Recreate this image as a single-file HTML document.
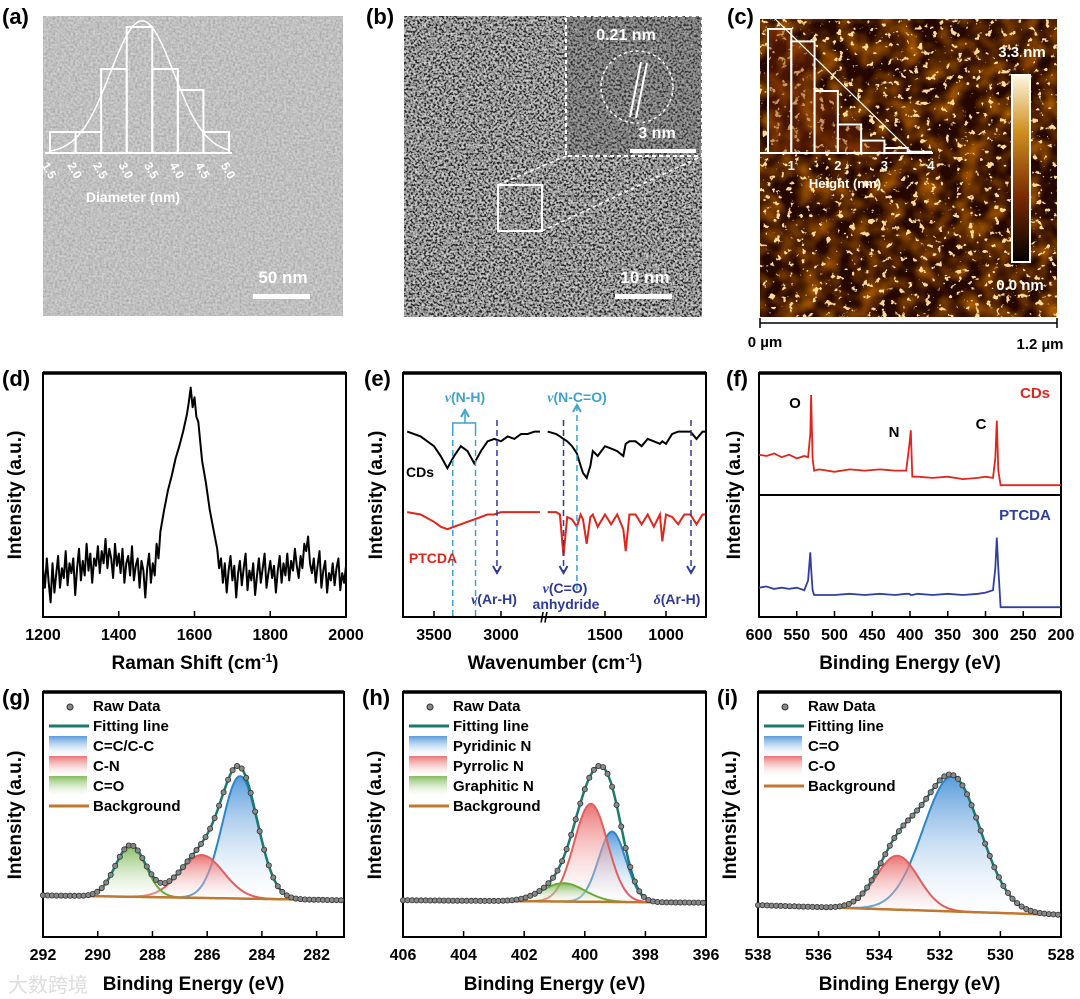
<!DOCTYPE html>
<html><head><meta charset="utf-8">
<style>
html,body{margin:0;padding:0;background:#fff;}
svg{display:block;font-family:"Liberation Sans","Noto Sans CJK SC",sans-serif;}
.pl{font-weight:bold;font-size:22px;}
.tk{font-weight:bold;font-size:16px;text-anchor:middle;}
.ax{font-weight:bold;font-size:19px;text-anchor:middle;}
.lg{font-family:"Liberation Sans Narrow","Liberation Sans",sans-serif;font-size:15px;font-weight:bold;}
.wt{fill:#fff;font-weight:bold;}
</style></head>
<body>
<svg id="fig" width="1080" height="999" viewBox="0 0 1080 999" xmlns="http://www.w3.org/2000/svg">
<defs>
<filter id="temA" x="0" y="0" width="1" height="1">
<feTurbulence type="fractalNoise" baseFrequency="0.45" numOctaves="2" seed="3"/>
<feColorMatrix type="matrix" values="0.9 0 0 0 0.2  0.9 0 0 0 0.2  0.9 0 0 0 0.2  0 0 0 0 1"/>
</filter>
<filter id="temB" x="0" y="0" width="1" height="1">
<feTurbulence type="fractalNoise" baseFrequency="0.45" numOctaves="2" seed="7"/>
<feColorMatrix type="matrix" values="2.6 0 0 0 -0.95  2.6 0 0 0 -0.95  2.6 0 0 0 -0.95  0 0 0 0 1"/>
</filter>
<filter id="afm" x="0" y="0" width="1" height="1">
<feTurbulence type="fractalNoise" baseFrequency="0.16" numOctaves="3" seed="11"/>
<feColorMatrix type="matrix" values="0 0 0 0 1  0 0 0 0 0.72  0 0 0 0 0.3  16 0 0 0 -10.3"/>
</filter>
<filter id="afm2" x="0" y="0" width="1" height="1">
<feTurbulence type="fractalNoise" baseFrequency="0.05" numOctaves="2" seed="5"/>
<feColorMatrix type="matrix" values="0 0 0 0 0.4  0 0 0 0 0.1  0 0 0 0 0  2 0 0 0 -0.7"/>
</filter>
<linearGradient id="cbar" x1="0" y1="0" x2="0" y2="1">
<stop offset="0" stop-color="#fff8e0"/><stop offset="0.3" stop-color="#d09020"/><stop offset="0.65" stop-color="#7a2a00"/><stop offset="1" stop-color="#000"/>
</linearGradient>
<linearGradient id="gBlue" x1="0" y1="0" x2="0" y2="1"><stop offset="0" stop-color="#3d8ad6" stop-opacity="0.85"/><stop offset="1" stop-color="#fff" stop-opacity="0.2"/></linearGradient>
<linearGradient id="gRed" x1="0" y1="0" x2="0" y2="1"><stop offset="0" stop-color="#e85a5a" stop-opacity="0.85"/><stop offset="1" stop-color="#fff" stop-opacity="0.2"/></linearGradient>
<linearGradient id="gGreen" x1="0" y1="0" x2="0" y2="1"><stop offset="0" stop-color="#6cb040" stop-opacity="0.85"/><stop offset="1" stop-color="#fff" stop-opacity="0.2"/></linearGradient>
</defs>

<g>
<rect x="43" y="16" width="300" height="300" fill="#a9a9a9"/>
<rect x="43" y="16" width="300" height="300" filter="url(#temA)" opacity="0.55"/>
<g id="histA"></g>
<text x="133" y="202" class="wt" font-size="14" text-anchor="middle">Diameter (nm)</text>
<text x="283" y="283" class="wt" font-size="17" text-anchor="middle">50 nm</text>
<rect x="253" y="294" width="57" height="5" fill="#fff"/>
<text x="2" y="24" class="pl">(a)</text>
</g>

<g>
<rect x="404" y="16" width="298" height="301" fill="#777"/>
<rect x="404" y="16" width="298" height="301" filter="url(#temB)" opacity="0.7"/>
<rect x="566" y="16" width="136" height="140" fill="#555" opacity="0.35"/>
<rect x="566" y="16" width="136" height="140" fill="none" stroke="#fff" stroke-width="2" stroke-dasharray="4,3"/>
<rect x="498" y="185" width="44" height="46" fill="none" stroke="#fff" stroke-width="2"/>
<line x1="498" y1="185" x2="566" y2="156" stroke="#fff" stroke-width="1.5" stroke-dasharray="4,3"/>
<line x1="542" y1="231" x2="702" y2="156" stroke="#fff" stroke-width="1.5" stroke-dasharray="4,3"/>
<circle cx="637" cy="87" r="36" fill="none" stroke="#fff" stroke-width="1.5" stroke-dasharray="3,3"/>
<line x1="630" y1="117" x2="641" y2="62" stroke="#fff" stroke-width="2"/>
<line x1="636" y1="118" x2="647" y2="63" stroke="#fff" stroke-width="2"/>
<text x="626" y="40" class="wt" font-size="16" text-anchor="middle">0.21 nm</text>
<text x="657" y="138" class="wt" font-size="16" text-anchor="middle">3 nm</text>
<rect x="630" y="149" width="66" height="4" fill="#fff"/>
<text x="645" y="283" class="wt" font-size="17" text-anchor="middle">10 nm</text>
<rect x="615" y="294" width="57" height="5" fill="#fff"/>
<text x="366" y="24" class="pl">(b)</text>
</g>

<g>
<rect x="760" y="19" width="297" height="298" fill="#250700"/>
<rect x="760" y="19" width="297" height="298" filter="url(#afm2)"/>
<rect x="760" y="19" width="297" height="298" filter="url(#afm)"/>
<g id="histC"></g>
<text x="845" y="188" class="wt" font-size="13" text-anchor="middle">Height (nm)</text>
<rect x="1012" y="75" width="18" height="187" fill="url(#cbar)" stroke="#fff" stroke-width="2"/>
<text x="1022" y="57" class="wt" font-size="15" text-anchor="middle">3.3 nm</text>
<text x="1020" y="290" class="wt" font-size="15" text-anchor="middle">0.0 nm</text>
<line x1="760" y1="323" x2="1057" y2="323" stroke="#000" stroke-width="1.5"/>
<line x1="760" y1="318" x2="760" y2="328" stroke="#000" stroke-width="1.5"/>
<line x1="1057" y1="318" x2="1057" y2="328" stroke="#000" stroke-width="1.5"/>
<text x="765" y="347" font-weight="bold" font-size="15" text-anchor="middle">0 µm</text>
<text x="1040" y="349" font-weight="bold" font-size="15" text-anchor="middle">1.2 µm</text>
<text x="727" y="24" class="pl">(c)</text>
</g>

<g id="charts"></g>
<text x="8" y="992" font-size="20" fill="#ddd">大数跨境</text>
</svg>

<script>
const histABins = [1.5,2.0,2.5,3.0,3.5,4.0,4.5];
const histACounts = [1,1,4,6,4,3,1];
const histALabels = ["1.5","2.0","2.5","3.0","3.5","4.0","4.5","5.0"];
const histCBins = [0.5,1.0,1.5,2.0,2.5,3.0,3.5];
const histCCounts = [10,9,5,2.3,1,0.4,0.1];
const histCLabels = ["1","2","3","4"];

const ramanX = [1200,1205,1210,1215,1220,1225,1230,1235,1240,1245,1250,1255,1260,1265,1270,1275,1280,1285,1290,1295,1300,1305,1310,1315,1320,1325,1330,1335,1340,1345,1350,1355,1360,1365,1370,1375,1380,1385,1390,1395,1400,1405,1410,1415,1420,1425,1430,1435,1440,1445,1450,1455,1460,1465,1470,1475,1480,1485,1490,1495,1500,1505,1510,1520,1530,1540,1550,1560,1570,1580,1585,1590,1595,1600,1605,1610,1615,1620,1630,1640,1650,1660,1665,1670,1675,1680,1685,1690,1695,1700,1705,1710,1715,1720,1725,1730,1735,1740,1745,1750,1755,1760,1765,1770,1775,1780,1785,1790,1795,1800,1805,1810,1815,1820,1825,1830,1835,1840,1845,1850,1855,1860,1865,1870,1875,1880,1885,1890,1895,1900,1905,1910,1915,1920,1925,1930,1935,1940,1945,1950,1955,1960,1965,1970,1975,1980,1985,1990,1995,2000];
const ramanY = [20,12,24,14,6,22,10,18,25,12,20,16,27,13,22,18,24,9,20,28,15,23,17,30,19,26,14,24,21,29,18,27,22,32,20,28,24,16,30,21,26,18,28,14,22,25,17,29,15,21,24,12,23,19,8,20,26,14,22,17,30,24,35,44,52,58,65,70,76,83,88,94,86,90,82,80,72,64,55,44,36,28,20,24,14,22,10,19,25,15,21,8,18,23,13,20,26,11,19,15,22,9,17,24,14,20,26,12,18,23,16,21,10,19,25,14,22,17,26,15,23,19,28,21,16,25,20,30,27,33,22,18,24,14,21,27,12,19,23,10,18,15,22,13,20,24,11,18,14,21,16];
const ramanTicks = [1200,1400,1600,1800,2000];

const ftirLeftWn = [3700,3600,3500,3450,3400,3350,3300,3250,3200,3150,3100,3050,3000,2950,2900,2850,2800,2750,2710];
const cdsLeft = [76,74,70,66,61,66,70,68,63,68,72,73,72,74,73,75,75,76,76];
const ptcdaLeft = [43,42,39,37,36,37,38,39,40,41,42,42,43,43,43,43,43,43,43];
const ftirRightWn = [1970,1900,1870,1840,1810,1770,1730,1700,1680,1650,1620,1600,1560,1500,1450,1400,1350,1330,1300,1250,1200,1150,1100,1050,1030,1000,950,900,850,800,750,700,680];
const cdsRight = [76,75,74,73,72,70,67,62,59,57,62,68,66,70,69,68,66,71,72,72,70,73,72,71,72,71,75,76,76,76,73,76,76];
const ptcdaRight = [43,43,42,25,41,40,37,42,40,30,41,42,37,42,38,42,36,27,42,42,38,42,37,42,31,42,41,38,42,42,38,42,42];
const ftirTicksLeft = [3500,3000];
const ftirTicksRight = [1500,1000];

const surveyBE = [600,590,580,570,560,550,540,535,532,531,529,527,520,500,480,460,440,420,405,401,399,397,390,370,350,330,310,300,290,287,285,283,280,260,240,220,200];
const surveyCDs = [33,32,34,31,33,30,32,31,50,82,30,20,21,19,21,20,21,20,20,40,53,15,15,14,15,13,14,15,14,30,61,20,8,8,8,8,8];
const surveyPTCDA = [24,25,23,24,23,24,22,30,53,40,22,18,18,18,19,18,19,18,19,19,18,18,19,18,19,18,19,20,22,40,65,40,8,8,8,8,8];
const surveyTicks = [600,550,500,450,400,350,300,250,200];

const c1sCenters = [284.8,286.2,288.8];
const c1sAmps = [50,17.5,21];
const c1sWidths = [0.65,0.8,0.55];
const c1sNames = ["C=C/C-C","C-N","C=O"];
const c1sBg = [17,15];
const c1sTicks = [292,290,288,286,284,282];

const n1sCenters = [399.1,399.8,400.7];
const n1sAmps = [28.7,40,7.5];
const n1sWidths = [0.45,0.55,0.7];
const n1sNames = ["Pyridinic N","Pyrrolic N","Graphitic N"];
const n1sBg = [15,14];
const n1sTicks = [406,404,402,400,398,396];

const o1sCenters = [531.6,533.4];
const o1sAmps = [55,22];
const o1sWidths = [0.95,0.7];
const o1sNames = ["C=O","C-O"];
const o1sBg = [13,9];
const o1sTicks = [538,536,534,532,530,528];

const NS = "http://www.w3.org/2000/svg";
function el(parent, tag, attrs, text){
  const e = document.createElementNS(NS, tag);
  for (const k in attrs) e.setAttribute(k, attrs[k]);
  if (text !== undefined) e.textContent = text;
  parent.appendChild(e);
  return e;
}
function lin(d0,d1,r0,r1){ return v => r0 + (v-d0)*(r1-r0)/(d1-d0); }
function pts(xs, ys, sx, sy){ return xs.map((x,i)=>sx(x).toFixed(1)+","+sy(ys[i]).toFixed(1)).join(" "); }
const charts = document.getElementById("charts");

function frame(g, x0, y0, x1, y1){
  const r = el(g,"rect",{x:x0,y:y0,width:x1-x0,height:y1-y0,fill:"none",stroke:"#000","stroke-width":2});
  
  
  const t = el(g,"line",{x1:x0,y1:y0,x2:x1,y2:y0,stroke:"#000","stroke-width":3.5});
  
  
}
function xTicks(g, ticks, sx, yb, labels){
  ticks.forEach((v,i)=>{
    const l = el(g,"line",{x1:sx(v),y1:yb,x2:sx(v),y2:yb-6,stroke:"#000","stroke-width":1.5});
    
    
    const t = el(g,"text",{x:sx(v),y:yb+23,class:"tk"}, labels? labels[i] : String(v));
    
    
  });
}
function yTitle(g, x, yc){
  const t = el(g,"text",{x:x,y:yc,class:"ax",transform:`rotate(-90 ${x} ${yc})`},"Intensity (a.u.)");
  
  
}
function xTitle(g, x, y, html){
  const t = el(g,"text",{x:x,y:y,class:"ax"});
  t.innerHTML = html;
  
  
}
function plabel(g, x, y, s){
  const t = el(g,"text",{x:x,y:y,class:"pl"}, s);
  
  
}

(function(){
  const g = document.getElementById("histA");
  const sx = lin(1.5,5.0,50,229), sy = lin(0,6,153,27);
  histABins.forEach((b,i)=>{
    const r = el(g,"rect",{x:sx(b),y:sy(histACounts[i]),width:sx(b+0.5)-sx(b),height:153-sy(histACounts[i]),fill:"none",stroke:"#fff","stroke-width":2});
    
    
  });
  const ax = el(g,"line",{x1:45,y1:153,x2:232,y2:153,stroke:"#fff","stroke-width":2});
  
  
  let d="";
  for(let v=1.5; v<=5.0; v+=0.05){ const c = 6.3*Math.exp(-Math.pow(v-3.3,2)/(2*0.62*0.62)); d += (d?"L":"M")+sx(v).toFixed(1)+","+sy(c).toFixed(1); }
  const p = el(g,"path",{d:d,fill:"none",stroke:"#fff","stroke-width":1.5});
  
  
  histALabels.forEach(s=>{
    const x = sx(parseFloat(s));
    const t = el(g,"text",{x:x,y:175,class:"wt","font-size":12,"text-anchor":"middle",transform:`rotate(60 ${x} 170)`}, s);
    
    
  });
})();

(function(){
  const g = document.getElementById("histC");
  const sx = lin(0.5,4.0,768,931), sy = lin(0,10,153,29);
  histCBins.forEach((b,i)=>{
    const r = el(g,"rect",{x:sx(b),y:sy(histCCounts[i]),width:sx(b+0.5)-sx(b),height:153-sy(histCCounts[i]),fill:"rgba(120,40,0,0.4)",stroke:"#fff","stroke-width":2});
    
    
  });
  const ax = el(g,"line",{x1:760,y1:153,x2:933,y2:153,stroke:"#fff","stroke-width":2});
  
  
  const l = el(g,"line",{x1:sx(0.6),y1:sy(11),x2:sx(3.6),y2:sy(0),stroke:"#fff","stroke-width":1.2});
  
  
  histCLabels.forEach(s=>{
    const t = el(g,"text",{x:sx(+s),y:170,class:"wt","font-size":13,"text-anchor":"middle"}, s);
    
    
  });
})();

(function(){
  const g = el(charts,"g",{});
  
  
  const sx = lin(1200,2000,43,346), sy = lin(0,100,617,373);
  frame(g,43,373,346,617);
  const p = el(g,"polyline",{points:pts(ramanX,ramanY,sx,sy),fill:"none",stroke:"#000","stroke-width":2,"stroke-linejoin":"round"});
  
  
  xTicks(g, ramanTicks, sx, 617);
  yTitle(g, 21, 495);
  xTitle(g, 195, 669, 'Raman Shift (cm<tspan dy="-7" font-size="12">-1</tspan><tspan dy="7">)</tspan>');
  plabel(g, 2, 386, "(d)");
})();

(function(){
  const g = el(charts,"g",{});
  
  
  const sxL = lin(3500,3000,434,501), sxR = lin(1500,1000,605,666), sy = lin(0,100,617,373);
  frame(g,403,373,706,617);
  [[ftirLeftWn,cdsLeft,sxL,"#000","cds-left"],[ftirRightWn,cdsRight,sxR,"#000","cds-right"],[ftirLeftWn,ptcdaLeft,sxL,"#e0261c","ptcda-left"],[ftirRightWn,ptcdaRight,sxR,"#e0261c","ptcda-right"]].forEach(s=>{
    const p = el(g,"polyline",{points:pts(s[0],s[1],s[2],sy),fill:"none",stroke:s[3],"stroke-width":2});
    
    
  });
  xTicks(g, ftirTicksLeft, sxL, 617);
  xTicks(g, ftirTicksRight, sxR, 617);
  const br = el(g,"text",{x:544,y:622,"font-size":14,"font-weight":"bold","text-anchor":"middle"},"//");
  
  
  const lb="#3ea3cc", db="#2e3a9a";
  [[sxL(3360),430,617,lb],[sxL(3190),430,617,lb],[sxL(3030),420,573,db],[sxR(1840),420,573,db],[sxR(1730),405,590,lb],[sxR(795),420,573,db]].forEach(d=>{
    const l = el(g,"line",{x1:d[0],y1:d[1],x2:d[0],y2:d[2],stroke:d[3],"stroke-width":1.5,"stroke-dasharray":"6,4"});
    
    
  });
  [[sxL(3030),573,db,1],[sxR(1840),573,db,1],[sxR(795),573,db,1],[sxR(1730),405,lb,-1],[465,410,lb,-1]].forEach(a=>{
    const y=a[1], s=a[3];
    const pth = el(g,"path",{d:`M${a[0]-4},${y-7*s} L${a[0]},${y} L${a[0]+4},${y-7*s}`,fill:"none",stroke:a[2],"stroke-width":2});
    
    
  });
  const bk = el(g,"path",{d:`M${sxL(3360)},430 L${sxL(3360)},423 L${sxL(3190)},423 L${sxL(3190)},430 M465,423 L465,410`,fill:"none",stroke:lb,"stroke-width":1.5});
  
  
  const T = (x,y,s,c,n)=>{ const t = el(g,"text",{x:x,y:y,"font-size":14,"font-weight":"bold",fill:c,"text-anchor":"middle"}); t.innerHTML=s;   };
  T(465,402,'<tspan font-style="italic" font-family="Liberation Serif">ν</tspan>(N-H)',lb,'nh-label');
  T(577,402,'<tspan font-style="italic" font-family="Liberation Serif">ν</tspan>(N-C=O)',lb,'nco-label');
  T(494,604,'<tspan font-style="italic" font-family="Liberation Serif">ν</tspan>(Ar-H)',db,'arh-stretch-label');
  T(565,593,'<tspan font-style="italic" font-family="Liberation Serif">ν</tspan>(C=O)',db,'co-label');
  T(566,609,'anhydride',db,'anhydride-label');
  T(677,604,'<tspan font-style="italic" font-family="Liberation Serif">δ</tspan>(Ar-H)',db,'arh-bend-label');
  T(420,477,'CDs','#000','cds-label');
  T(433,563,'PTCDA','#e0261c','ptcda-label');
  yTitle(g, 382, 495);
  xTitle(g, 555, 669, 'Wavenumber (cm<tspan dy="-7" font-size="12">-1</tspan><tspan dy="7">)</tspan>');
  plabel(g, 364, 386, "(e)");
})();

(function(){
  const g = el(charts,"g",{});
  
  
  const sx = lin(600,200,759,1061), syT = lin(0,100,495,373), syB = lin(0,100,617,495);
  frame(g,759,373,1061,617);
  const dv = el(g,"line",{x1:759,y1:495,x2:1061,y2:495,stroke:"#000","stroke-width":2});
  
  
  const p1 = el(g,"polyline",{points:pts(surveyBE,surveyCDs,sx,syT),fill:"none",stroke:"#e0261c","stroke-width":1.8});
  
  
  const p2 = el(g,"polyline",{points:pts(surveyBE,surveyPTCDA,sx,syB),fill:"none",stroke:"#3040a0","stroke-width":1.8});
  
  
  xTicks(g, surveyTicks, sx, 617);
  const T = (x,y,s,c,n)=>{ const t = el(g,"text",{x:x,y:y,"font-size":15,"font-weight":"bold",fill:c,"text-anchor":"middle"},s);   };
  T(795,408,"O","#000","o-peak-label");
  T(894,437,"N","#000","n-peak-label");
  T(981,429,"C","#000","c-peak-label");
  T(1035,398,"CDs","#e0261c","cds-label");
  T(1025,520,"PTCDA","#3040a0","ptcda-label");
  yTitle(g, 740, 495);
  xTitle(g, 910, 669, 'Binding Energy (eV)');
  plabel(g, 726, 386, "(f)");
})();

function xpsPanel(name, lbl, x0, x1, beMax, beMin, centers, amps, widths, names, bg, ticks){
  const g = el(charts,"g",{});
  
  
  const sx = lin(beMax,beMin,x0,x1), sy = lin(0,100,937,692);
  frame(g,x0,692,x1,937);
  const bgf = b => bg[0] + (bg[1]-bg[0])*(beMax-b)/(beMax-beMin);
  const comp = (i,b) => amps[i]*Math.exp(-Math.pow(b-centers[i],2)/(2*widths[i]*widths[i]));
  const grads=["url(#gBlue)","url(#gRed)","url(#gGreen)"], cols=["#2d86c8","#e06060","#6aac3c"];
  const step=(beMax-beMin)/200;
  centers.forEach((c,i)=>{
    let top=[], bot=[];
    for(let b=beMax;b>=beMin-1e-9;b-=step){ top.push(sx(b).toFixed(1)+","+sy(bgf(b)+comp(i,b)).toFixed(1)); bot.unshift(sx(b).toFixed(1)+","+sy(bgf(b)).toFixed(1)); }
    const f = el(g,"polygon",{points:top.concat(bot).join(" "),fill:grads[i],stroke:"none"});
    
    
    const l = el(g,"polyline",{points:top.join(" "),fill:"none",stroke:cols[i],"stroke-width":2});
    
    
  });
  let fit=[], bgl=[];
  for(let b=beMax;b>=beMin-1e-9;b-=step){ let v=bgf(b); centers.forEach((c,i)=>v+=comp(i,b)); fit.push(sx(b).toFixed(1)+","+sy(v).toFixed(1)); bgl.push(sx(b).toFixed(1)+","+sy(bgf(b)).toFixed(1)); }
  const bl = el(g,"polyline",{points:bgl.join(" "),fill:"none",stroke:"#c0782e","stroke-width":2.5});
  
  
  const fl = el(g,"polyline",{points:fit.join(" "),fill:"none",stroke:"#1b7a6e","stroke-width":2.5});
  
  
  for(let k=0;k<fit.length;k+=3){
    const [px,py]=fit[k].split(",");
    const d = el(g,"circle",{cx:px,cy:py,r:2.6,fill:"#888",stroke:"#333","stroke-width":0.8});
    
    
  }
  xTicks(g, ticks, sx, 937);
  const lx = x0+6; let ly = 711;
  const items = [["Raw Data","dot"],["Fitting line","line","#1b7a6e"]].concat(names.map((n,i)=>[n,"box",grads[i]])).concat([["Background","line","#c0782e"]]);
  items.forEach(it=>{
    if(it[1]==="dot"){ const c = el(g,"circle",{cx:lx+21,cy:ly-4,r:3,fill:"#888",stroke:"#333"});   }
    else if(it[1]==="line"){ const l = el(g,"line",{x1:lx,y1:ly-5,x2:lx+40,y2:ly-5,stroke:it[2],"stroke-width":3});   }
    else { const r = el(g,"rect",{x:lx,y:ly-15,width:38,height:20,fill:it[2]});   }
    const t = el(g,"text",{x:lx+44,y:ly,class:"lg"},it[0]);
    
    
    ly += 20;
  });
  yTitle(g, x0-22, 815);
  xTitle(g, (x0+x1)/2, 990, 'Binding Energy (eV)');
  plabel(g, x0-41, 705, lbl);
}
xpsPanel("panel-g-c1s","(g)",43,344,292,281,c1sCenters,c1sAmps,c1sWidths,c1sNames,c1sBg,c1sTicks);
xpsPanel("panel-h-n1s","(h)",403,706,406,396,n1sCenters,n1sAmps,n1sWidths,n1sNames,n1sBg,n1sTicks);
xpsPanel("panel-i-o1s","(i)",758,1061,538,528,o1sCenters,o1sAmps,o1sWidths,o1sNames,o1sBg,o1sTicks);
</script>
</body></html>
